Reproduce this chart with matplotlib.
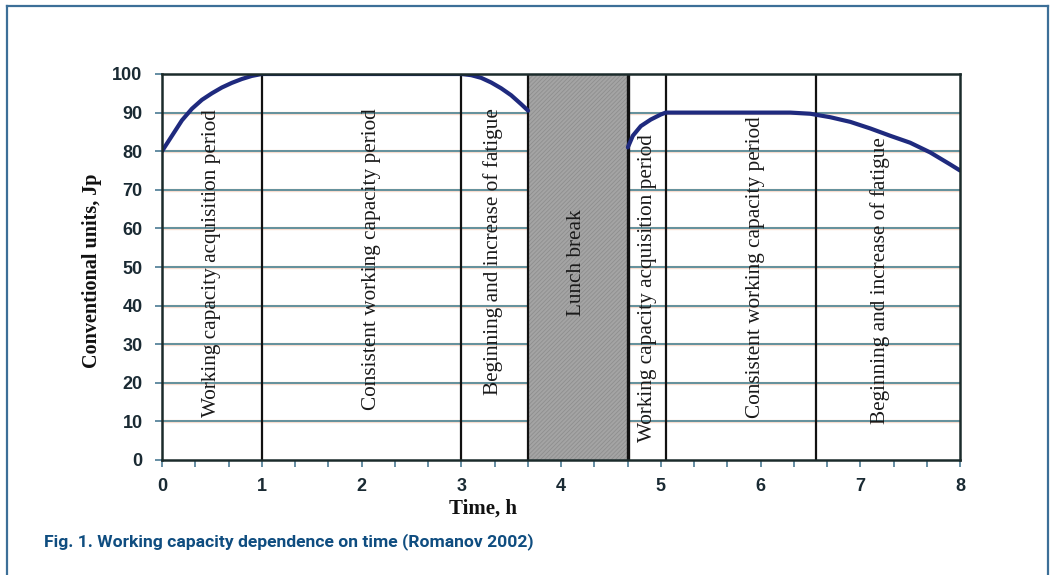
import matplotlib
matplotlib.use("Agg")
import matplotlib.pyplot as plt
from matplotlib.lines import Line2D
import numpy as np

# curve (time in hours, conventional units)
morning_t = [0.0, 0.1, 0.2, 0.3, 0.4, 0.5, 0.6, 0.7, 0.8, 0.9, 1.0,
             3.0, 3.1, 3.2, 3.3, 3.4, 3.5, 3.6, 3.67]
morning_y = [80, 84, 88, 91, 93.3, 95, 96.5, 97.7, 98.7, 99.5, 100,
             100, 99.7, 99, 97.8, 96.3, 94.5, 92.2, 90.5]
afternoon_t = [4.67, 4.72, 4.8, 4.9, 5.0, 5.05, 6.3, 6.5, 6.7, 6.9,
               7.1, 7.3, 7.5, 7.7, 7.9, 8.0]
afternoon_y = [81, 84, 86.5, 88.2, 89.5, 90, 90, 89.7, 88.8, 87.6,
               85.9, 84, 82.2, 79.7, 76.6, 75]

# period boundaries (h) and the lunch break
boundaries = [1.0, 3.0, 3.67, 4.67, 5.05, 6.56]
lunch = (3.67, 4.67)

period_labels = ["Working capacity acquisition period",
                 "Consistent working capacity period",
                 "Beginning and increase of fatigue",
                 "Lunch break",
                 "Working capacity acquisition period",
                 "Consistent working capacity period",
                 "Beginning and increase of fatigue"]
label_x = [0.5, 2.1, 3.32, 4.16, 4.87, 5.95, 7.2]
label_y = [51, 52, 54, 51, 44.5, 50, 46.5]

SERIF = "Liberation Serif"
SANS = "Liberation Sans"

plt.rcParams["hatch.linewidth"] = 0.6

fig = plt.figure(figsize=(10.56, 5.75), dpi=100)
ax = fig.add_axes([162 / 1056, 1 - 460 / 575, 798 / 1056, 386 / 575])

ax.set_xlim(0, 8)
ax.set_ylim(0, 100)

# horizontal grid
for v in range(10, 100, 10):
    ax.axhline(v, color="#f7dccf", lw=2.4, zorder=1)
    ax.axhline(v, color="#4a8494", lw=1.2, zorder=1.1)

# lunch break block
ax.axvspan(lunch[0], lunch[1], facecolor="#a4a4a4", edgecolor="#8e8e8e",
           hatch="////////", lw=0, zorder=2)

for b in boundaries:
    ax.axvline(b, color="#111111", lw=1.6 if b != lunch[1] else 2.4, zorder=3)

ax.plot(morning_t, morning_y, color="#1f2a7e", lw=3, zorder=5,
        solid_capstyle="round")
ax.plot(afternoon_t, afternoon_y, color="#1f2a7e", lw=3, zorder=5,
        solid_capstyle="round")

for txt, x, y in zip(period_labels, label_x, label_y):
    ax.text(x, y, txt, rotation=90, ha="center", va="center",
            family=SERIF, fontsize=15.3, color="#1a1a1a", zorder=6)

for s in ax.spines.values():
    s.set_color("#1b2b2b")
    s.set_linewidth(1.8)
    s.set_zorder(7)

ax.set_xticks(range(0, 9))
ax.set_xticks(np.arange(0, 8.01, 1 / 3), minor=True)
ax.set_yticks(range(0, 101, 10))
ax.tick_params(axis="both", which="both", direction="out", color="#4a7a94",
               width=1.2, length=5, labelsize=13, labelcolor="#1a2a33")
ax.tick_params(axis="x", which="major", pad=8)
ax.tick_params(axis="y", which="major", pad=9)
for lab in ax.get_xticklabels() + ax.get_yticklabels():
    lab.set_family(SANS)
    lab.set_fontweight("bold")

ax.set_ylabel("Conventional units, Jp", family=SERIF, fontweight="bold",
              fontsize=14.5, color="#111111")
ax.yaxis.set_label_coords(-0.075, 0.49)
ax.set_xlabel("Time, h", family=SERIF, fontweight="bold", fontsize=15,
              color="#111111")
ax.xaxis.set_label_coords((483 - 162) / 798, -0.1)

# outer frame of the figure panel
frame = dict(color="#3c6f98", lw=1.6, transform=fig.transFigure)
fig.add_artist(Line2D([7 / 1056, 7 / 1056], [0, 1 - 6 / 575], **frame))
fig.add_artist(Line2D([7 / 1056, 1048 / 1056], [1 - 6 / 575, 1 - 6 / 575], **frame))
fig.add_artist(Line2D([1048 / 1056, 1048 / 1056], [0, 1 - 6 / 575], **frame))

fig.text(44 / 1056, 1 - 542 / 575,
         "Fig. 1. Working capacity dependence on time (Romanov 2002)",
         family="Roboto", fontweight="bold",
         fontsize=12.6, color="#0f4d80", va="center", ha="left")

fig.savefig("out.png", dpi=100)
